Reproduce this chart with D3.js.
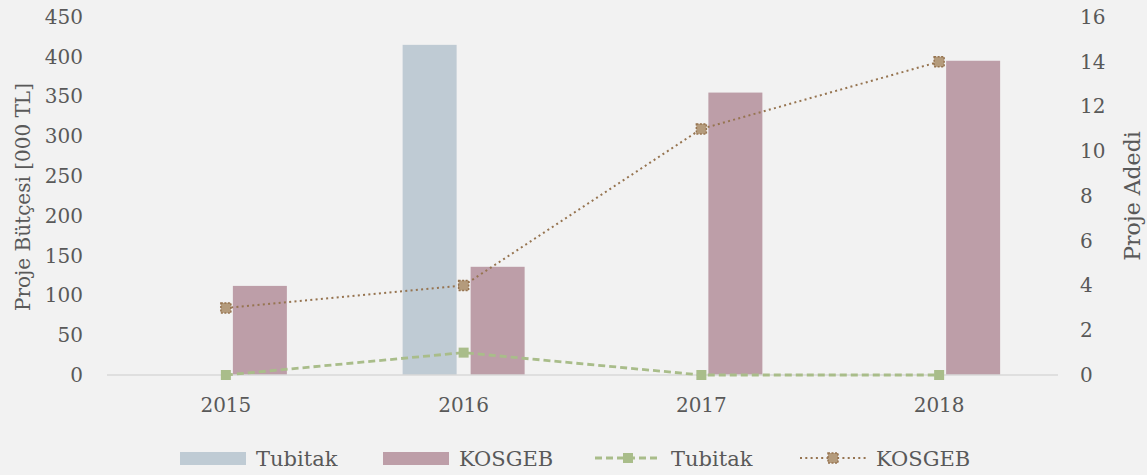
<!DOCTYPE html>
<html lang="tr">
<head>
<meta charset="UTF-8">
<title>Proje Bütçesi ve Adedi</title>
<script src="https://d3js.org/d3.v7.min.js"></script>
<style>
  html, body { margin: 0; padding: 0; background: #f2f2f2; }
  svg text { font-family: "DejaVu Serif", serif; fill: #595959; }
</style>
</head>
<body>
<div id="chart"></div>
<script>
const years = ["2015", "2016", "2017", "2018"];
const budgetTubitak = [0, 415, 0, 0];
const budgetKosgeb = [112, 136, 355, 395];
const countTubitak = [0, 1, 0, 0];
const countKosgeb = [3, 4, 11, 14];
const leftTicks = [0, 50, 100, 150, 200, 250, 300, 350, 400, 450];
const rightTicks = [0, 2, 4, 6, 8, 10, 12, 14, 16];

const W = 1147, H = 475;
const margin = {top: 17, right: 89, bottom: 100, left: 107};
const width = W - margin.left - margin.right;
const height = H - margin.top - margin.bottom;

const colTubBar = "#bfcbd4", colKosBar = "#bd9ea8";
const colTubLine = "#a9bd8a", colKosLine = "#967450", colKosMark = "#b49b7c";

const svg = d3.select("#chart").append("svg")
    .attr("width", W).attr("height", H);
svg.append("rect").attr("width", W).attr("height", H).attr("fill", "#f2f2f2");

const g = svg.append("g").attr("transform", `translate(${margin.left},${margin.top})`);

const x = d3.scaleBand().domain(years).range([0, width]);
const y = d3.scaleLinear().domain([0, 450]).range([height, 0]);
const y2 = d3.scaleLinear().domain([0, 16]).range([height, 0]);

const barW = 54, off = 34;

// bars
g.selectAll(".bt").data(years.map((d, i) => ({year: d, v: budgetTubitak[i]})).filter(d => d.v > 0))
  .enter().append("rect")
  .attr("x", d => x(d.year) + x.bandwidth() / 2 - off - barW / 2)
  .attr("width", barW)
  .attr("y", d => y(d.v))
  .attr("height", d => height - y(d.v))
  .attr("fill", colTubBar);

g.selectAll(".bk").data(years.map((d, i) => ({year: d, v: budgetKosgeb[i]})))
  .enter().append("rect")
  .attr("x", d => x(d.year) + x.bandwidth() / 2 + off - barW / 2)
  .attr("width", barW)
  .attr("y", d => y(d.v))
  .attr("height", d => height - y(d.v))
  .attr("fill", colKosBar);

// baseline
g.append("line").attr("x1", 0).attr("x2", width).attr("y1", height).attr("y2", height)
  .attr("stroke", "#d9d9d9").attr("stroke-width", 1.5);

// axes
const axL = g.append("g").call(d3.axisLeft(y).tickValues(leftTicks).tickSize(0).tickPadding(24));
const axR = g.append("g").attr("transform", `translate(${width},0)`)
  .call(d3.axisRight(y2).tickValues(rightTicks).tickSize(0).tickPadding(22));
const axB = g.append("g").attr("transform", `translate(0,${height})`)
  .call(d3.axisBottom(x).tickSize(0).tickPadding(23));
[axL, axR, axB].forEach(a => {
  a.select(".domain").remove();
  a.selectAll("text").style("font-family", "DejaVu Serif, serif").style("font-size", "20px").attr("fill", "#595959");
});

// lines
const cx = d => x(d) + x.bandwidth() / 2;
const lineT = d3.line().x((d, i) => cx(years[i])).y(d => y2(d));

g.append("path").datum(countTubitak).attr("d", lineT)
  .attr("fill", "none").attr("stroke", colTubLine).attr("stroke-width", 2.8)
  .attr("stroke-dasharray", "7,4");
g.append("path").datum(countKosgeb).attr("d", lineT)
  .attr("fill", "none").attr("stroke", colKosLine).attr("stroke-width", 2)
  .attr("stroke-dasharray", "2,3.3");

g.selectAll(".mt").data(countTubitak).enter().append("rect")
  .attr("x", (d, i) => cx(years[i]) - 5).attr("y", d => y2(d) - 5)
  .attr("width", 10).attr("height", 10).attr("fill", colTubLine);

g.selectAll(".mk").data(countKosgeb).enter().append("rect")
  .attr("x", (d, i) => cx(years[i]) - 5).attr("y", d => y2(d) - 5)
  .attr("width", 10).attr("height", 10)
  .attr("fill", colKosMark).attr("stroke", colKosLine).attr("stroke-width", 1.5)
  .attr("stroke-dasharray", "2,1.5");

// axis titles
svg.append("text")
  .attr("transform", `translate(30,197) rotate(-90)`)
  .attr("text-anchor", "middle")
  .style("font-size", "20px")
  .text("Proje Bütçesi [000 TL]");
svg.append("text")
  .attr("transform", `translate(1140,196) rotate(-90)`)
  .attr("text-anchor", "middle")
  .style("font-size", "22px")
  .text("Proje Adedi");

// legend
const leg = svg.append("g").attr("transform", "translate(0,458)");
const legendItems = [
  {type: "bar", color: colTubBar, label: "Tubitak", x: 180},
  {type: "bar", color: colKosBar, label: "KOSGEB", x: 383},
  {type: "lineT", color: colTubLine, label: "Tubitak", x: 595},
  {type: "lineK", color: colKosLine, label: "KOSGEB", x: 800}
];
legendItems.forEach(it => {
  const gi = leg.append("g").attr("transform", `translate(${it.x},0)`);
  if (it.type === "bar") {
    gi.append("rect").attr("x", 0).attr("y", -6).attr("width", 66).attr("height", 13).attr("fill", it.color);
  } else if (it.type === "lineT") {
    gi.append("line").attr("x1", 0).attr("x2", 66).attr("y1", 0).attr("y2", 0)
      .attr("stroke", it.color).attr("stroke-width", 2.8).attr("stroke-dasharray", "7,4");
    gi.append("rect").attr("x", 28).attr("y", -5).attr("width", 10).attr("height", 10).attr("fill", it.color);
  } else {
    gi.append("line").attr("x1", 0).attr("x2", 66).attr("y1", 0).attr("y2", 0)
      .attr("stroke", it.color).attr("stroke-width", 2).attr("stroke-dasharray", "2,3.3");
    gi.append("rect").attr("x", 28).attr("y", -5).attr("width", 10).attr("height", 10)
      .attr("fill", colKosMark).attr("stroke", colKosLine).attr("stroke-width", 1.5)
      .attr("stroke-dasharray", "2,1.5");
  }
  gi.append("text").attr("x", 76).attr("y", 8).style("font-size", "21px").text(it.label);
});
</script>
</body>
</html>
